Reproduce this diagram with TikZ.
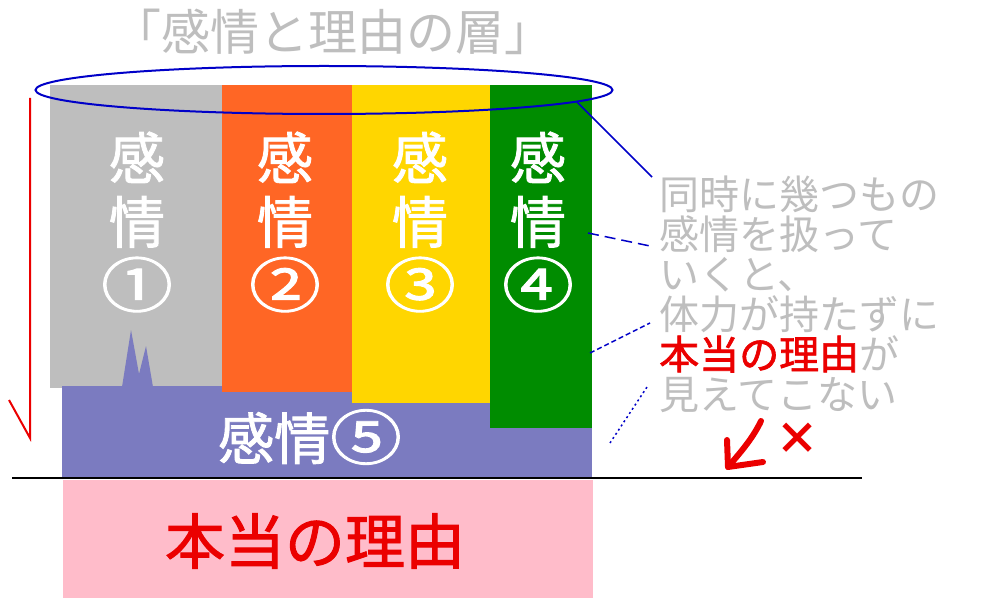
\documentclass[tikz,border=0pt]{standalone}
\usepackage{graphicx}
\usepackage{fontspec}
\setmainfont{Noto Sans CJK JP}
\newfontfamily\medfont[FakeBold=1.6]{Noto Sans CJK JP}
\newcommand{\cnum}[1]{\scalebox{1.28}[1.06]{#1}}
\usetikzlibrary{shapes.geometric}
\definecolor{cgray}{RGB}{190,190,190}
\definecolor{corange}{RGB}{255,102,37}
\definecolor{cyellow}{RGB}{255,214,0}
\definecolor{cgreen}{RGB}{0,140,0}
\definecolor{cpurple}{RGB}{123,123,192}
\definecolor{cpink}{RGB}{255,188,202}
\definecolor{cred}{RGB}{235,0,0}
\definecolor{cblue}{RGB}{0,0,200}
\definecolor{ctext}{RGB}{190,190,190}
\begin{document}
\begin{tikzpicture}[x=1pt,y=-1pt,
  box/.style={draw=none,inner sep=0pt,anchor=north west},
  lab/.style={text=white,align=center,inner sep=0pt,font=\fontsize{56}{64}\selectfont\medfont},
  conn/.style={draw=cblue,line width=1.5pt}]
\useasboundingbox (0,0) rectangle (1000,601);
\fill[white] (0,0) rectangle (1000,601);
% title
\node[text=ctext,inner sep=0pt,font=\fontsize{49}{49}\selectfont] (title) at (333,32) {「感情と理由の層」};
% gray column
\node[box,fill=cgray,minimum width=172pt,minimum height=303pt] (e1) at (50,85) {};
% purple base with spikes
\node[box,fill=cpurple,minimum width=530pt,minimum height=91pt] (e5) at (62,386) {};
\fill[cpurple] (122,387) -- (131,330) -- (139,374) -- (146,346) -- (153,387) -- cycle;
% other columns
\node[box,fill=corange,minimum width=130pt,minimum height=307pt] (e2) at (222,85) {};
\node[box,fill=cyellow,minimum width=138pt,minimum height=318pt] (e3) at (352,85) {};
\node[box,fill=cgreen,minimum width=102pt,minimum height=343pt] (e4) at (490,85) {};
% pink base
\node[box,fill=cpink,minimum width=530pt,minimum height=118pt] (base) at (63,480) {};
% ground line
\coordinate (gl) at (12,478);
\coordinate (gr) at (862,478);
\draw[line width=2pt,black] (gl) -- (gr);
% labels
\node[lab] (t1) at (137,222) {感\\情\\\cnum{①}};
\node[lab] (t2) at (285,222) {感\\情\\\cnum{②}};
\node[lab] (t3) at (420,222) {感\\情\\\cnum{③}};
\node[lab] (t4) at (538,222) {感\\情\\\cnum{④}};
\node[lab] (t5) at (310,437) {感情\cnum{⑤}};
\node[text=cred,inner sep=0pt,font=\fontsize{60}{60}\selectfont\medfont] (t6) at (315,541) {本当の理由};
% ellipse
\node[draw=cblue,line width=2pt,ellipse,minimum width=577pt,minimum height=48pt,inner sep=0pt] (ring) at (324,90) {};
% red arrow on the left
\coordinate (ra) at (30,98);
\coordinate (rb) at (30,438);
\coordinate (rc) at (9,400);
\draw[cred,line width=2pt] (ra) -- (rb) -- (rc);
% side text
\node[text=ctext,align=left,anchor=west,inner sep=0pt,font=\fontsize{40}{40}\selectfont] (note) at (659,294) {同時に幾つもの\\感情を扱って\\いくと、\\体力が持たずに\\{\color{cred}\medfont 本当の理由}が\\見えてこない};
% blue connectors
\coordinate (s1) at (577,102);
\coordinate (s2) at (652,177);
\coordinate (d1) at (588,233);
\coordinate (d2) at (650,246);
\coordinate (f1) at (590,353);
\coordinate (f2) at (650,323);
\coordinate (o1) at (610,443);
\coordinate (o2) at (647,387);
\draw[conn] (s1) -- (s2);
\draw[conn,dash pattern=on 11pt off 6pt] (d1) -- (d2);
\draw[conn,dash pattern=on 5pt off 3pt] (f1) -- (f2);
\draw[conn,dash pattern=on 2pt off 3pt] (o1) -- (o2);
% red hand-drawn arrow and cross
\coordinate (h1) at (761,421);
\coordinate (h2) at (728,467);
\coordinate (h3) at (727,440);
\coordinate (h4) at (763,462);
\draw[cred,line width=6pt,line cap=round,line join=round] (h1) .. controls (752,440) and (738,455) .. (h2);
\draw[cred,line width=6pt,line cap=round,line join=round] (h3) -- (h2) -- (h4);
\node[text=cred,inner sep=0pt,font=\fontsize{44}{44}\selectfont\bfseries] (cross) at (797,439) {×};
\end{tikzpicture}
\end{document}
